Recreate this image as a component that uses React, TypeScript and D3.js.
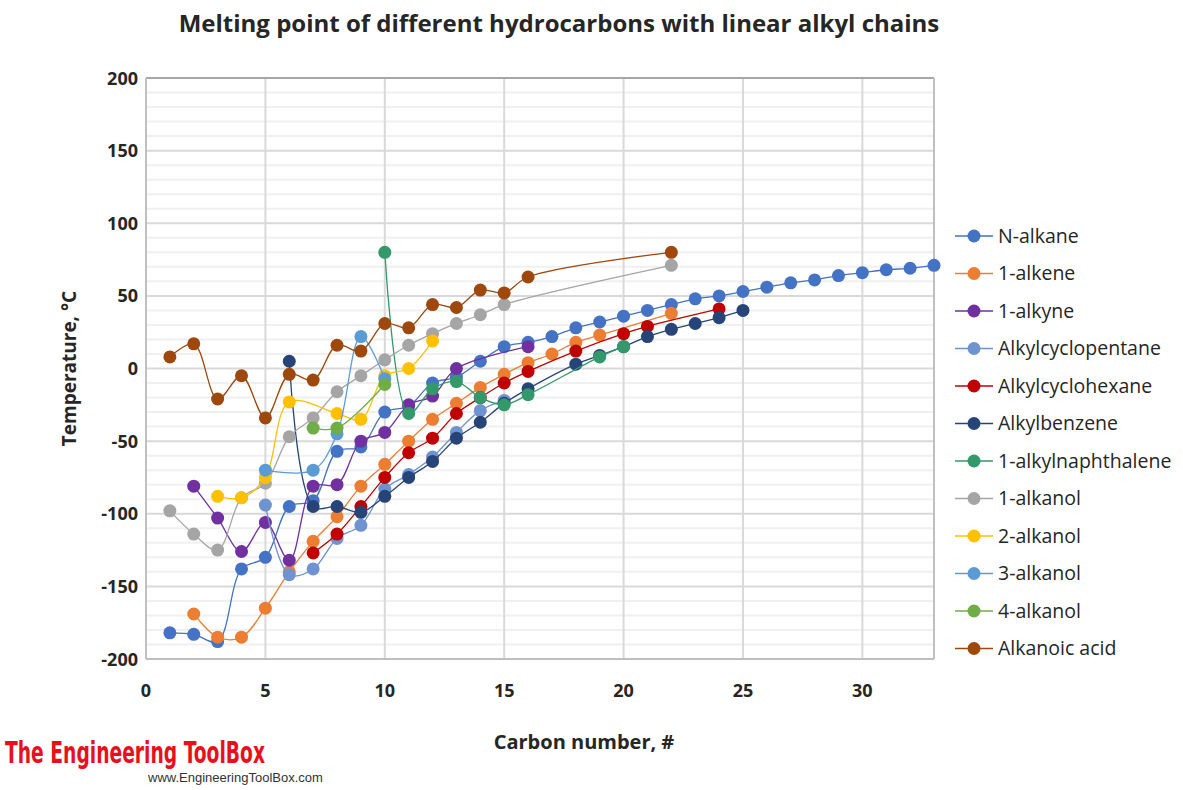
import * as d3 from "d3";

// carbon numbers and melting points (°C) per series
const nAlkaneC = [1, 2, 3, 4, 5, 6, 7, 8, 9, 10, 11, 12, 13, 14, 15, 16, 17, 18, 19, 20, 21, 22, 23, 24, 25, 26, 27, 28, 29, 30, 31, 32, 33];
const nAlkaneT = [-182, -183, -188, -138, -130, -95, -91, -57, -54, -30, -26, -10, -6, 5, 15, 18, 22, 28, 32, 36, 40, 44, 48, 50, 53, 56, 59, 61, 64, 66, 68, 69, 71];

const alkeneC = [2, 3, 4, 5, 6, 7, 8, 9, 10, 11, 12, 13, 14, 15, 16, 17, 18, 19, 22];
const alkeneT = [-169, -185, -185, -165, -140, -119, -102, -81, -66, -50, -35, -24, -13, -4, 4, 10, 18, 23, 38];

const alkyneC = [2, 3, 4, 5, 6, 7, 8, 9, 10, 11, 12, 13, 16];
const alkyneT = [-81, -103, -126, -106, -132, -81, -80, -50, -44, -25, -19, 0, 15];

const cyclopentaneC = [5, 6, 7, 8, 9, 10, 11, 12, 13, 14, 15];
const cyclopentaneT = [-94, -142, -138, -117, -108, -83, -73, -61, -44, -29, -22];

const cyclohexaneC = [7, 8, 9, 10, 11, 12, 13, 14, 15, 16, 18, 20, 21, 24];
const cyclohexaneT = [-127, -114, -95, -75, -58, -48, -31, -20, -10, -2, 12, 24, 29, 41];

const benzeneC = [6, 7, 8, 9, 10, 11, 12, 13, 14, 15, 16, 18, 19, 20, 21, 22, 23, 24, 25];
const benzeneT = [5, -95, -95, -99, -88, -75, -64, -48, -37, -24, -14, 3, 9, 15, 22, 27, 31, 35, 40];

const naphthaleneC = [10, 11, 12, 13, 14, 15, 16, 19, 20];
const naphthaleneT = [80, -31, -14, -9, -20, -25, -18, 8, 15];

const alkanol1C = [1, 2, 3, 4, 5, 6, 7, 8, 9, 10, 11, 12, 13, 14, 15, 22];
const alkanol1T = [-98, -114, -125, -89, -79, -47, -34, -16, -5, 6, 16, 24, 31, 37, 44, 71];

const alkanol2C = [3, 4, 5, 6, 8, 9, 10, 11, 12];
const alkanol2T = [-88, -89, -75, -23, -31, -35, -5, 0, 19];

const alkanol3C = [5, 7, 8, 9, 10];
const alkanol3T = [-70, -70, -45, 22, -7];

const alkanol4C = [7, 8, 10];
const alkanol4T = [-41, -41, -11];

const acidC = [1, 2, 3, 4, 5, 6, 7, 8, 9, 10, 11, 12, 13, 14, 15, 16, 22];
const acidT = [8, 17, -21, -5, -34, -4, -8, 16, 12, 31, 28, 44, 42, 54, 52, 63, 80];

const seriesNames = [
  "N-alkane", "1-alkene", "1-alkyne", "Alkylcyclopentane", "Alkylcyclohexane", "Alkylbenzene",
  "1-alkylnaphthalene", "1-alkanol", "2-alkanol", "3-alkanol", "4-alkanol", "Alkanoic acid",
];
const seriesColors = [
  "#4472c4", "#ed7d31", "#7030a0", "#6f93d0", "#c00000", "#264478",
  "#33996a", "#a5a5a5", "#ffc000", "#5b9bd5", "#70ad47", "#9e480e",
];
const seriesC = [nAlkaneC, alkeneC, alkyneC, cyclopentaneC, cyclohexaneC, benzeneC, naphthaleneC, alkanol1C, alkanol2C, alkanol3C, alkanol4C, acidC];
const seriesT = [nAlkaneT, alkeneT, alkyneT, cyclopentaneT, cyclohexaneT, benzeneT, naphthaleneT, alkanol1T, alkanol2T, alkanol3T, alkanol4T, acidT];

const xTicks = [0, 5, 10, 15, 20, 25, 30];
const yTicks = [200, 150, 100, 50, 0, -50, -100, -150, -200];

const W = 1183;
const H = 790;
const FONT = "'Open Sans', 'Liberation Sans', sans-serif";

export default function App() {
  const x = d3.scaleLinear().domain([0, 33]).range([146, 934]);
  const y = d3.scaleLinear().domain([-200, 200]).range([659, 78]);

  const series = seriesNames.map((name, i) => ({
    name,
    color: seriesColors[i],
    points: seriesC[i].map((c, j) => ({ c, t: seriesT[i][j] })),
  }));

  const line = d3
    .line<{ c: number; t: number }>()
    .x((d) => x(d.c))
    .y((d) => y(d.t))
    .curve(d3.curveCatmullRom);

  const minorY = d3.range(-190, 200, 10).filter((v) => v % 50 !== 0);
  const legendY = (i: number) => 236 + i * 37.5;

  return (
    <svg width={W} height={H} style={{ position: "absolute", left: 0, top: 0, background: "#fff" }}>
      {/* title */}
      <text x={559} y={32} textAnchor="middle" fontFamily={FONT} fontWeight="bold" fontSize={24} fill="#262626">
        Melting point of different hydrocarbons with linear alkyl chains
      </text>

      {/* grid */}
      <g>
        {minorY.map((v) => (
          <line key={"m" + v} x1={x(0)} x2={x(33)} y1={y(v)} y2={y(v)} stroke="#f0f0f0" strokeWidth={2} />
        ))}
        {yTicks.map((v) => (
          <line key={"y" + v} x1={x(0)} x2={x(33)} y1={y(v)} y2={y(v)} stroke="#d9d9d9" strokeWidth={2} />
        ))}
        {xTicks.filter((v) => v > 0).map((v) => (
          <line key={"x" + v} x1={x(v)} x2={x(v)} y1={y(200)} y2={y(-200)} stroke="#d9d9d9" strokeWidth={2} />
        ))}
        <line x1={x(0)} x2={x(33)} y1={y(200)} y2={y(200)} stroke="#a6a6a6" strokeWidth={2} />
        <line x1={x(0)} x2={x(33)} y1={y(-200)} y2={y(-200)} stroke="#bfbfbf" strokeWidth={2} />
        <line x1={x(0)} x2={x(0)} y1={y(200)} y2={y(-200)} stroke="#bfbfbf" strokeWidth={2} />
        <line x1={x(33)} x2={x(33)} y1={y(200)} y2={y(-200)} stroke="#bfbfbf" strokeWidth={2} />
      </g>

      {/* tick labels */}
      {yTicks.map((v) => (
        <text key={"yl" + v} x={138} y={y(v) + 6.5} textAnchor="end" fontFamily={FONT} fontWeight="bold" fontSize={18} fill="#262626">
          {v}
        </text>
      ))}
      {xTicks.map((v) => (
        <text key={"xl" + v} x={x(v)} y={697} textAnchor="middle" fontFamily={FONT} fontWeight="bold" fontSize={18} fill="#262626">
          {v}
        </text>
      ))}

      {/* axis titles */}
      <text transform={`translate(76,${y(0)}) rotate(-90)`} textAnchor="middle" fontFamily={FONT} fontWeight="bold" fontSize={19} fill="#262626">
        Temperature, °C
      </text>
      <text x={584} y={749} textAnchor="middle" fontFamily={FONT} fontWeight="bold" fontSize={20} fill="#262626">
        Carbon number, #
      </text>

      {/* series */}
      {series.map((s) => (
        <g key={s.name}>
          <path d={line(s.points) ?? ""} fill="none" stroke={s.color} strokeWidth={1.3} />
          {s.points.map((p, j) => (
            <circle key={j} cx={x(p.c)} cy={y(p.t)} r={6.5} fill={s.color} />
          ))}
        </g>
      ))}

      {/* legend */}
      {series.map((s, i) => (
        <g key={"lg" + s.name}>
          <line x1={955} x2={993} y1={legendY(i)} y2={legendY(i)} stroke={s.color} strokeWidth={1.3} />
          <circle cx={974} cy={legendY(i)} r={6.5} fill={s.color} />
          <text x={998} y={legendY(i) + 6.5} fontFamily={FONT} fontSize={19.5} fill="#262626">
            {s.name}
          </text>
        </g>
      ))}

      {/* logo */}
      <text x={5} y={763} fontFamily="'Liberation Sans Narrow', 'DejaVu Sans Condensed', sans-serif" fontWeight="bold" fontSize={31} fill="#e8101a" textLength={260} lengthAdjust="spacingAndGlyphs">
        The Engineering ToolBox
      </text>
      <text x={148} y={782} fontFamily="'Liberation Sans', Arial, sans-serif" fontSize={13} fill="#333">
        www.EngineeringToolBox.com
      </text>
    </svg>
  );
}
